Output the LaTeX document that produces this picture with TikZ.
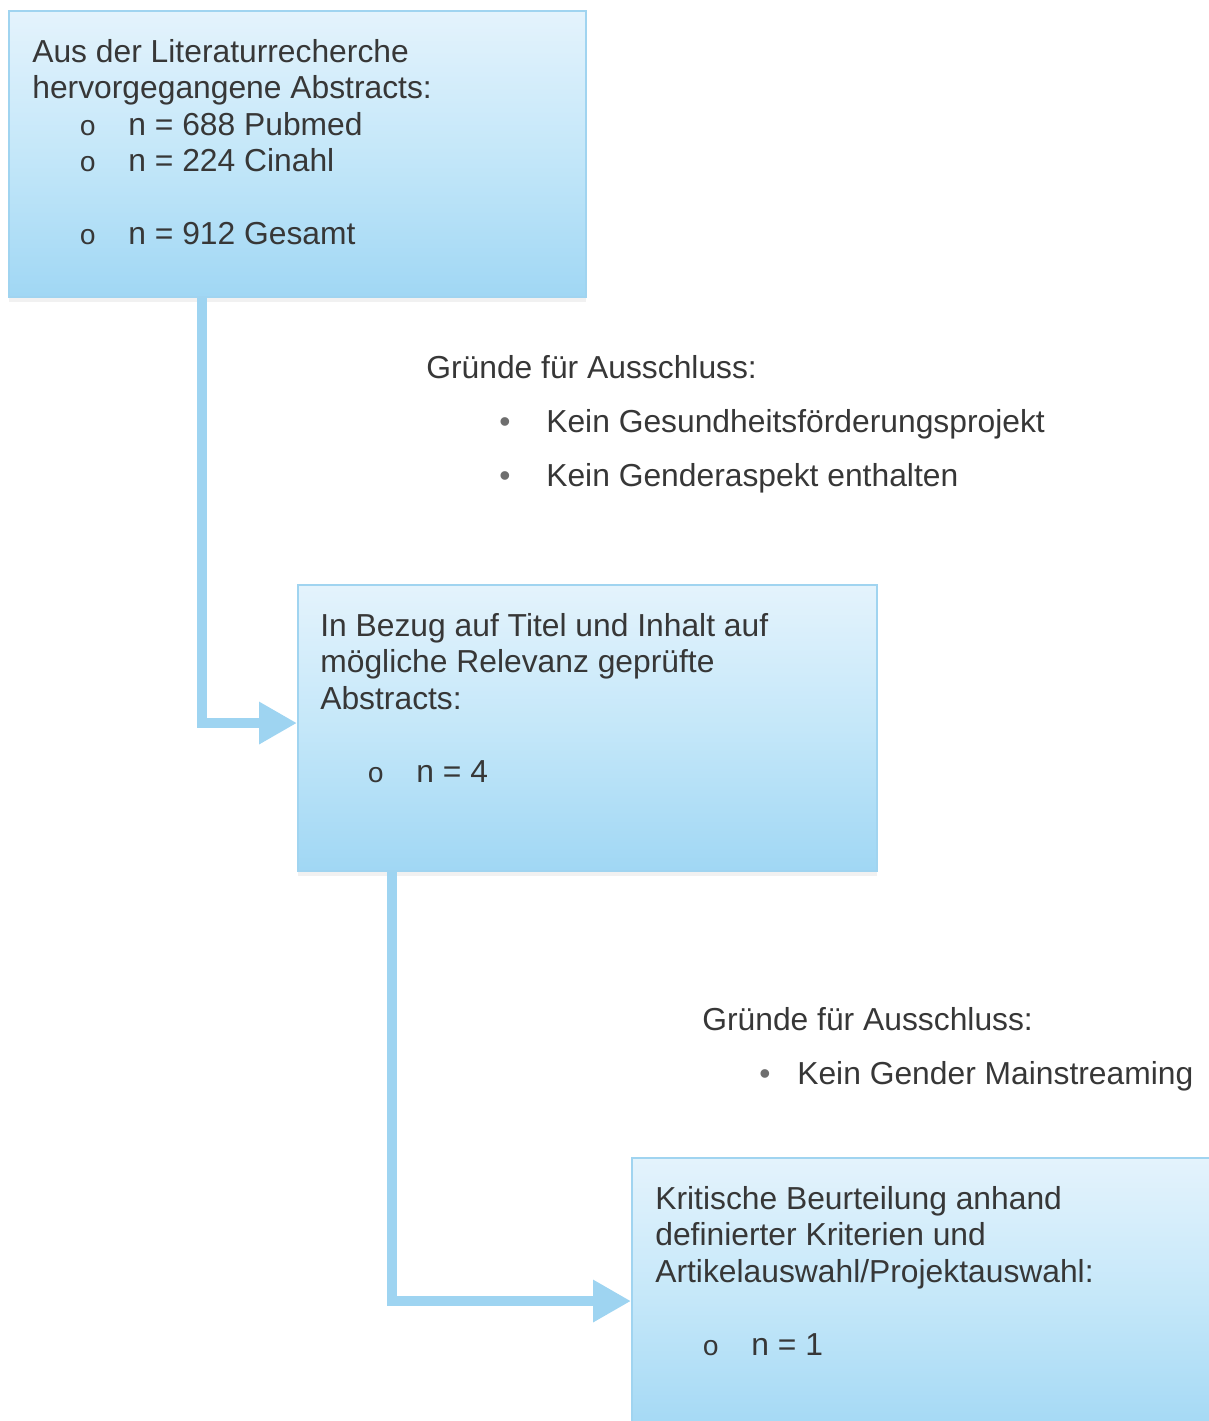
\documentclass[tikz,border=0pt]{standalone}
\usepackage{fontspec}
\setmainfont{Liberation Sans}
\newfontfamily\ringfont{Liberation Mono}
\usepackage{xcolor}
\usetikzlibrary{arrows.meta,shadows}

\definecolor{ink}{RGB}{55,55,55}
\definecolor{dotgray}{RGB}{110,110,110}
\definecolor{boxtop}{RGB}{228,243,252}
\definecolor{boxmid}{RGB}{196,231,249}
\definecolor{boxbottom}{RGB}{160,215,244}
\definecolor{boxline}{RGB}{160,212,240}
\definecolor{arrowblue}{RGB}{158,212,241}

% one pixel of the reference
\newdimen\pxu \pxu=0.02cm
\newcommand{\ringitem}{\hspace*{47\pxu}\makebox[49\pxu][l]{\ringfont\fontsize{16}{16}\selectfont o}}
\newcommand{\dotitem}[2]{\hspace*{#1\pxu}\makebox[#2\pxu][l]{\textcolor{dotgray}{•}}}

\tikzset{
  stepbox/.style={draw=boxline, line width=1.2pt, top color=boxtop, bottom color=boxbottom,
    middle color=boxmid, anchor=north west, inner sep=0pt,
    drop shadow={shadow xshift=0pt, shadow yshift=-3pt, opacity=0.12, fill=black!45}},
  boxtext/.style={anchor=base west, inner sep=0pt, text=ink,
    font=\fontsize{18.1}{20.8}\selectfont},
  flowarrow/.style={draw=arrowblue, line width=0.2cm,
    -{Triangle[length=0.76cm,width=0.8cm]}}
}

\begin{document}
\begin{tikzpicture}[x=0.02cm, y=-0.02cm]
  \clip (0,0) rectangle (1209,1421);

  % Boxes
  \node[stepbox, minimum width=11.54cm, minimum height=5.72cm] (abstracts) at (8,10) {};
  \node[stepbox, minimum width=11.58cm, minimum height=5.72cm] (relevance) at (297,584) {};
  \node[stepbox, minimum width=12.18cm, minimum height=5.72cm] (critical) at (631,1157) {};

  % Box texts
  \node[boxtext] (absText) at (32,62) {%
    \begin{tabular}[t]{@{}l@{}}
      Aus der Literaturrecherche\\
      hervorgegangene Abstracts:\\
      \ringitem n = 688 Pubmed\\
      \ringitem n = 224 Cinahl\\[20.8pt]
      \ringitem n = 912 Gesamt
    \end{tabular}};
  \node[boxtext] (relText) at (320,636) {%
    \begin{tabular}[t]{@{}l@{}}
      In Bezug auf Titel und Inhalt auf\\
      mögliche Relevanz geprüfte\\
      Abstracts:\\[20.8pt]
      \ringitem n = 4
    \end{tabular}};
  \node[boxtext] (critText) at (655,1209) {%
    \begin{tabular}[t]{@{}l@{}}
      Kritische Beurteilung anhand\\
      definierter Kriterien und\\
      Artikelauswahl/Projektauswahl:\\[20.8pt]
      \ringitem n = 1
    \end{tabular}};

  % Exclusion reasons
  \node[boxtext] (grundA) at (426,378) {%
    \begin{tabular}[t]{@{}l@{}}
      Gründe für Ausschluss:\\[10.1pt]
      \dotitem{73}{47}Kein Gesundheitsförderungsprojekt\\[10.1pt]
      \dotitem{73}{47}Kein Genderaspekt enthalten
    \end{tabular}};
  \node[boxtext] (grundB) at (702,1030) {%
    \begin{tabular}[t]{@{}l@{}}
      Gründe für Ausschluss:\\[10.1pt]
      \dotitem{57}{38}Kein Gender Mainstreaming
    \end{tabular}};

  % Connectors
  \draw[flowarrow] ([shift={(194,0)}]abstracts.south west) |- ([shift={(0,-5)}]relevance.west);
  \draw[flowarrow] ([shift={(95,0)}]relevance.south west) |- (critical.west);
\end{tikzpicture}
\end{document}
